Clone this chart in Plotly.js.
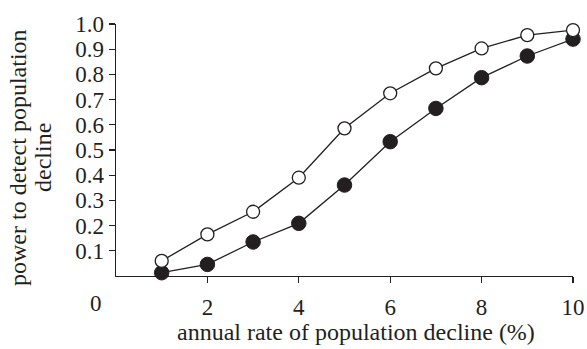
<!DOCTYPE html>
<html>
<head>
<meta charset="utf-8">
<script src="https://cdn.plot.ly/plotly-3.0.1.min.js"></script>
<style>html,body{margin:0;padding:0;background:#fff;}#chart{width:587px;height:349px;}</style>
</head>
<body>
<div id="chart"></div>
<script>
const rates = [1, 2, 3, 4, 5, 6, 7, 8, 9, 10];
const powerOpen = [0.06, 0.165, 0.255, 0.39, 0.586, 0.725, 0.824, 0.903, 0.956, 0.976];
const powerFilled = [0.013, 0.046, 0.135, 0.209, 0.361, 0.533, 0.665, 0.787, 0.873, 0.94];
const xTickVals = [2, 4, 6, 8, 10];
const xTickText = ['2', '4', '6', '8', '10'];
const yTickVals = [0.1, 0.2, 0.3, 0.4, 0.5, 0.6, 0.7, 0.8, 0.9, 1.0];
const yTickText = ['0.1', '0.2', '0.3', '0.4', '0.5', '0.6', '0.7', '0.8', '0.9', '1.0'];
const xTitle = 'annual rate of population decline (%)';
const yTitleLines = ['power to detect population', 'decline'];

const tickFont = {family: 'Liberation Serif, Times New Roman, serif', size: 23, color: '#231f20'};
const titleFont = {family: 'Liberation Serif, Times New Roman, serif', size: 24, color: '#231f20'};

const traces = [
  {x: rates, y: powerFilled, mode: 'lines+markers', cliponaxis: false,
   line: {color: '#231f20', width: 1.3},
   marker: {symbol: 'circle', size: 14.5, color: '#231f20', line: {color: '#231f20', width: 1}}},
  {x: rates, y: powerOpen, mode: 'lines+markers', cliponaxis: false,
   line: {color: '#231f20', width: 1.3},
   marker: {symbol: 'circle', size: 13, color: '#ffffff', line: {color: '#231f20', width: 1.3}}}
];

const layout = {
  width: 587, height: 349,
  margin: {l: 116, r: 14, t: 24, b: 73},
  paper_bgcolor: '#fff', plot_bgcolor: '#fff',
  showlegend: false,
  font: tickFont,
  xaxis: {
    range: [0, 10], tickmode: 'array', tickvals: xTickVals, ticktext: xTickText,
    showgrid: false, zeroline: false, showline: true, linecolor: '#231f20', linewidth: 1.3,
    ticks: 'outside', ticklen: 6, tickwidth: 1.3, tickcolor: '#231f20',
    tickfont: tickFont, ticklabelstandoff: 4
  },
  yaxis: {
    range: [0, 1], tickmode: 'array', tickvals: yTickVals, ticktext: yTickText,
    showgrid: false, zeroline: false, showline: true, linecolor: '#231f20', linewidth: 1.3,
    ticks: 'outside', ticklen: 6, tickwidth: 1.3, tickcolor: '#231f20',
    tickfont: tickFont
  },
  annotations: [
    {text: '0', xref: 'x', yref: 'paper', x: 0, y: 0, xshift: -20, yshift: -13,
     xanchor: 'center', yanchor: 'top', showarrow: false, font: tickFont},
    {text: xTitle, xref: 'paper', yref: 'paper', x: 0.5, y: 0, xshift: 11, yshift: -56,
     xanchor: 'center', yanchor: 'middle', showarrow: false, font: titleFont},
    {text: yTitleLines[0], xref: 'paper', yref: 'paper', x: 0, y: 0.5, xshift: -98, yshift: -8,
     xanchor: 'center', yanchor: 'middle', textangle: -90, showarrow: false, font: titleFont},
    {text: yTitleLines[1], xref: 'paper', yref: 'paper', x: 0, y: 0.5, xshift: -73, yshift: -8,
     xanchor: 'center', yanchor: 'middle', textangle: -90, showarrow: false, font: titleFont}
  ]
};

Plotly.newPlot('chart', traces, layout, {displayModeBar: false, staticPlot: true});
</script>
</body>
</html>
